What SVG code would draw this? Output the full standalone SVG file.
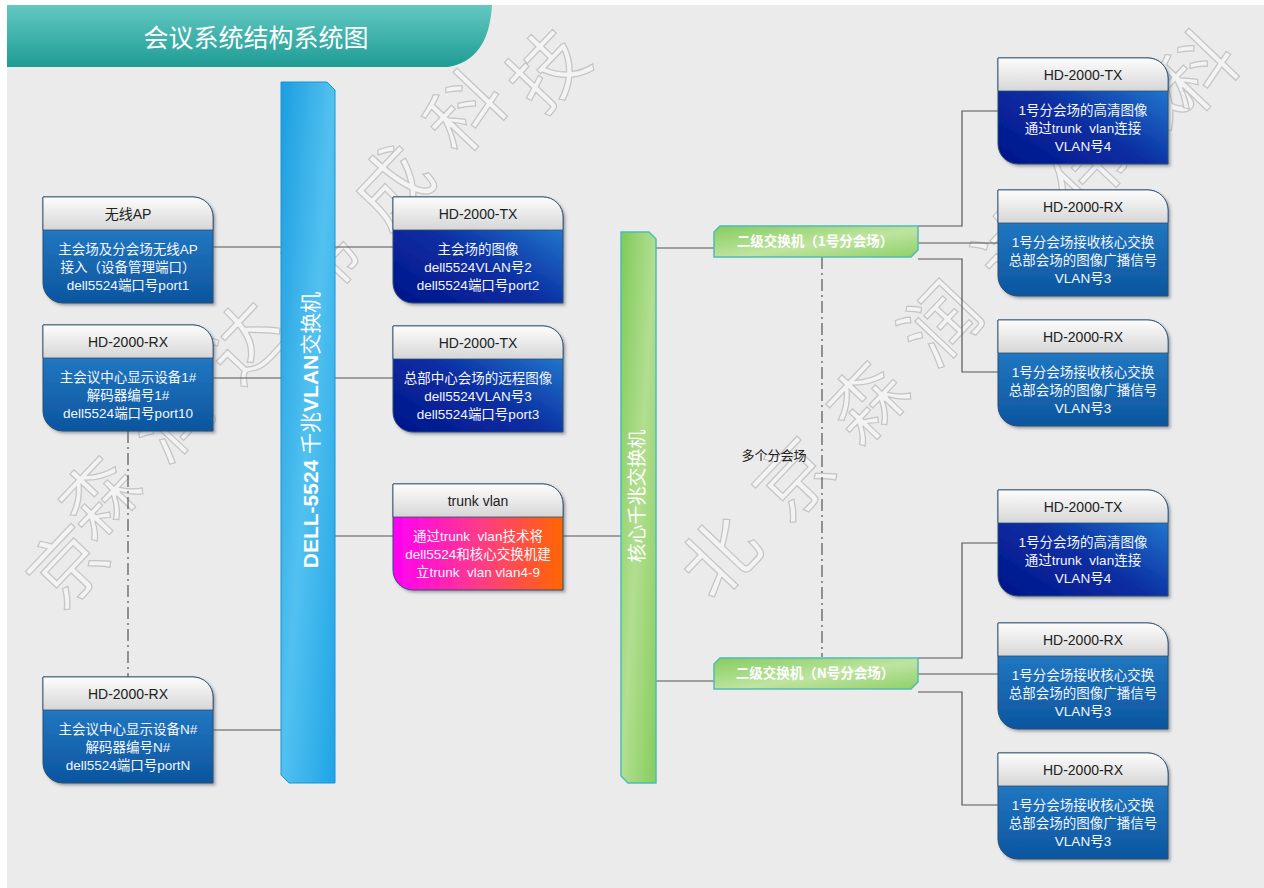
<svg xmlns="http://www.w3.org/2000/svg" xmlns:xlink="http://www.w3.org/1999/xlink" width="1264" height="888" viewBox="0 0 1264 888">
<style>
  .t{font-family:"Liberation Sans","Noto Sans CJK SC",sans-serif;}
  .hdt{font-size:14px;fill:#222;text-anchor:middle;}
  .bdt{font-size:13.5px;fill:#f4f7ff;text-anchor:middle;}
  .ln{stroke:#555;stroke-width:1.2;fill:none;}
  .dd{stroke:#555;stroke-width:1.2;fill:none;stroke-dasharray:12 4 2 4;}
  .wm{font-family:"Noto Sans CJK SC",sans-serif;font-size:76px;text-anchor:middle;fill:#f7f7f7;fill-opacity:0.7;stroke:#c4c4c4;stroke-width:1.2;}
  .sw{font-family:"Noto Sans CJK SC","Liberation Sans",sans-serif;font-size:13.5px;font-weight:bold;fill:#fff;text-anchor:middle;}
</style>
<defs>
  <linearGradient id="gBan" x1="0" y1="0" x2="0" y2="1">
    <stop offset="0" stop-color="#63c8c2"/><stop offset="1" stop-color="#1f9c95"/>
  </linearGradient>
  <linearGradient id="gDell" x1="0" y1="0" x2="1" y2="1">
    <stop offset="0" stop-color="#1b9de0"/><stop offset="0.5" stop-color="#52c1f0"/><stop offset="1" stop-color="#1fa4e6"/>
  </linearGradient>
  <linearGradient id="gCore" x1="0" y1="0" x2="1" y2="1">
    <stop offset="0" stop-color="#7fca58"/><stop offset="0.5" stop-color="#b2de90"/><stop offset="1" stop-color="#86cd5e"/>
  </linearGradient>
  <linearGradient id="gSw" x1="0" y1="0" x2="1" y2="1">
    <stop offset="0" stop-color="#86cc60"/><stop offset="0.55" stop-color="#bfe4a0"/><stop offset="1" stop-color="#8ed068"/>
  </linearGradient>
  <linearGradient id="gHd" x1="0" y1="0" x2="0" y2="1">
    <stop offset="0" stop-color="#fdfdfd"/><stop offset="1" stop-color="#d6d6d6"/>
  </linearGradient>
  <linearGradient id="gRx" x1="0" y1="0" x2="0" y2="1">
    <stop offset="0" stop-color="#2a86cf"/><stop offset="1" stop-color="#0c559f"/>
  </linearGradient>
  <linearGradient id="gTx" x1="0" y1="1" x2="1" y2="0">
    <stop offset="0" stop-color="#03148a"/><stop offset="0.45" stop-color="#0a2ea2"/><stop offset="1" stop-color="#2b92dc"/>
  </linearGradient>
  <linearGradient id="gTr" x1="0" y1="0" x2="1" y2="0">
    <stop offset="0" stop-color="#ff00f6"/><stop offset="0.5" stop-color="#ff3a8a"/><stop offset="1" stop-color="#ff6600"/>
  </linearGradient>
  <filter id="sh" x="-10%" y="-10%" width="125%" height="125%">
    <feDropShadow dx="2" dy="2" stdDeviation="1.5" flood-color="#4a5a6a" flood-opacity="0.5"/>
  </filter>
  <path id="shape" d="M0,0 H150 A20,20 0 0 1 170,20 V106 H20 A20,20 0 0 1 0,86 Z"/>
  <path id="hdr" d="M0,0 H150 A20,20 0 0 1 170,20 V33 H0 Z"/>
</defs>

<rect x="0" y="0" width="1264" height="888" fill="#ffffff"/>
<rect x="7" y="5" width="1257" height="883" fill="#ebebeb"/>

<!-- watermark -->
<g id="watermark">
  <text class="wm" transform="translate(76,574) rotate(-46.5)" y="16" font-size="46">京</text>
  <text class="wm" transform="translate(99,497) rotate(-46.5)" y="27">森</text>
  <text class="wm" transform="translate(172,420) rotate(-46.5)" y="27">润</text>
  <text class="wm" transform="translate(246,342) rotate(-46.5)" y="27">达</text>
  <text class="wm" transform="translate(319,265) rotate(-46.5)" y="27">伟</text>
  <text class="wm" transform="translate(393,187) rotate(-46.5)" y="27">成</text>
  <text class="wm" transform="translate(466,112) rotate(-46.5)" y="27">科</text>
  <text class="wm" transform="translate(548,70) rotate(-46.5)" y="27">技</text>
  <text class="wm" transform="translate(720,557) rotate(-46.5)" y="27">北</text>
  <text class="wm" transform="translate(794,479) rotate(-46.5)" y="27">京</text>
  <text class="wm" transform="translate(867,402) rotate(-46.5)" y="27">森</text>
  <text class="wm" transform="translate(941,324) rotate(-46.5)" y="27">润</text>
  <text class="wm" transform="translate(1015,246) rotate(-46.5)" y="27">达</text>
  <text class="wm" transform="translate(1088,169) rotate(-46.5)" y="27">伟</text>
  <text class="wm" transform="translate(1150,105) rotate(-46.5)" y="27">成</text>
  <text class="wm" transform="translate(1198,72) rotate(-46.5)" y="27">科</text>
</g>

<!-- title -->
<g id="title">
  <path d="M7,5 H492 Q489,60 448,67 H7 Z" fill="url(#gBan)"/>
  <text x="256" y="47" font-size="25" fill="#ffffff" text-anchor="middle" font-family="Noto Sans CJK SC,sans-serif">会议系统结构系统图</text>
</g>

<!-- connectors -->
<g id="connectors">
  <path class="ln" d="M213,247 H393"/>
  <path class="ln" d="M213,378 H393"/>
  <path class="ln" d="M335,536 H393"/>
  <path class="ln" d="M563,536 H621"/>
  <path class="ln" d="M213,730 H281"/>
  <path class="dd" d="M128,431 V677"/>
  <path class="ln" d="M656,248 H714"/>
  <path class="ln" d="M656,681 H714"/>
  <path class="ln" d="M918,226 H962 V111 H998"/>
  <path class="ln" d="M918,243 H998"/>
  <path class="ln" d="M918,259 H962 V372 H998"/>
  <path class="ln" d="M918,658 H962 V543 H998"/>
  <path class="ln" d="M918,674 H998"/>
  <path class="ln" d="M918,692 H962 V805 H998"/>
  <path class="dd" d="M822,257 V657"/>
</g>

<!-- DELL switch bar -->
<g id="dell5524">
  <polygon points="281,82 327,82 335,90 335,783 289,783 281,775" fill="url(#gDell)" stroke="#1a94d4" stroke-width="1"/>
  <text class="t" transform="translate(318,430) rotate(-90)" text-anchor="middle" font-size="21" fill="#ffffff"><tspan font-weight="bold">DELL-5524</tspan> 千兆<tspan font-weight="bold">VLAN</tspan>交换机</text>
</g>

<!-- core switch bar -->
<g id="core">
  <polygon points="621,232 649,232 656,239 656,783 628,783 621,776" fill="url(#gCore)" stroke="#4fbdb5" stroke-width="1.5"/>
  <text class="t" transform="translate(644,496) rotate(-90)" text-anchor="middle" font-size="19" fill="#ffffff">核心千兆交换机</text>
</g>

<!-- secondary switches -->
<g id="sw1">
  <polygon points="720,226 918,226 918,250 911,257 714,257 714,232" fill="url(#gSw)" stroke="#4fbdb5" stroke-width="1.5"/>
  <text class="sw" x="815" y="246">二级交换机（1号分会场）</text>
</g>
<g id="swN">
  <polygon points="720,658 918,658 918,682 911,689 714,689 714,664" fill="url(#gSw)" stroke="#4fbdb5" stroke-width="1.5"/>
  <text class="sw" x="815" y="678">二级交换机（N号分会场）</text>
</g>

<text id="multi" class="t" x="774" y="460" font-size="13" fill="#222" text-anchor="middle">多个分会场</text>

<!-- left nodes -->
<g id="ap" transform="translate(43,197)">
  <use href="#shape" fill="url(#gRx)" stroke="#2d4e6e" stroke-width="1" filter="url(#sh)"/>
  <use href="#hdr" fill="url(#gHd)" stroke="#2d4e6e" stroke-width="0.8"/>
  <text class="t hdt" x="85" y="22">无线AP</text>
  <text class="t bdt" x="85" y="57">主会场及分会场无线AP</text>
  <text class="t bdt" x="85" y="75">接入（设备管理端口）</text>
  <text class="t bdt" x="85" y="93">dell5524端口号port1</text>
</g>
<g id="rx1" transform="translate(43,325)">
  <use href="#shape" fill="url(#gRx)" stroke="#2d4e6e" stroke-width="1" filter="url(#sh)"/>
  <use href="#hdr" fill="url(#gHd)" stroke="#2d4e6e" stroke-width="0.8"/>
  <text class="t hdt" x="85" y="22">HD-2000-RX</text>
  <text class="t bdt" x="85" y="57">主会议中心显示设备1#</text>
  <text class="t bdt" x="85" y="75">解码器编号1#</text>
  <text class="t bdt" x="85" y="93">dell5524端口号port10</text>
</g>
<g id="rxN" transform="translate(43,677)">
  <use href="#shape" fill="url(#gRx)" stroke="#2d4e6e" stroke-width="1" filter="url(#sh)"/>
  <use href="#hdr" fill="url(#gHd)" stroke="#2d4e6e" stroke-width="0.8"/>
  <text class="t hdt" x="85" y="22">HD-2000-RX</text>
  <text class="t bdt" x="85" y="57">主会议中心显示设备N#</text>
  <text class="t bdt" x="85" y="75">解码器编号N#</text>
  <text class="t bdt" x="85" y="93">dell5524端口号portN</text>
</g>

<!-- middle nodes -->
<g id="tx1" transform="translate(393,197)">
  <use href="#shape" fill="url(#gTx)" stroke="#2d4e6e" stroke-width="1" filter="url(#sh)"/>
  <use href="#hdr" fill="url(#gHd)" stroke="#2d4e6e" stroke-width="0.8"/>
  <text class="t hdt" x="85" y="22">HD-2000-TX</text>
  <text class="t bdt" x="85" y="57">主会场的图像</text>
  <text class="t bdt" x="85" y="75">dell5524VLAN号2</text>
  <text class="t bdt" x="85" y="93">dell5524端口号port2</text>
</g>
<g id="tx2" transform="translate(393,326)">
  <use href="#shape" fill="url(#gTx)" stroke="#2d4e6e" stroke-width="1" filter="url(#sh)"/>
  <use href="#hdr" fill="url(#gHd)" stroke="#2d4e6e" stroke-width="0.8"/>
  <text class="t hdt" x="85" y="22">HD-2000-TX</text>
  <text class="t bdt" x="85" y="57">总部中心会场的远程图像</text>
  <text class="t bdt" x="85" y="75">dell5524VLAN号3</text>
  <text class="t bdt" x="85" y="93">dell5524端口号port3</text>
</g>
<g id="trunk" transform="translate(393,484)">
  <use href="#shape" fill="url(#gTr)" stroke="#2d4e6e" stroke-width="1" filter="url(#sh)"/>
  <use href="#hdr" fill="url(#gHd)" stroke="#2d4e6e" stroke-width="0.8"/>
  <text class="t hdt" x="85" y="22">trunk vlan</text>
  <text class="t bdt" x="85" y="57" xml:space="preserve">通过trunk  vlan技术将</text>
  <text class="t bdt" x="85" y="75">dell5524和核心交换机建</text>
  <text class="t bdt" x="85" y="93" xml:space="preserve">立trunk  vlan vlan4-9</text>
</g>

<!-- right nodes -->
<g id="r1" transform="translate(998,58)">
  <use href="#shape" fill="url(#gTx)" stroke="#2d4e6e" stroke-width="1" filter="url(#sh)"/>
  <use href="#hdr" fill="url(#gHd)" stroke="#2d4e6e" stroke-width="0.8"/>
  <text class="t hdt" x="85" y="22">HD-2000-TX</text>
  <text class="t bdt" x="85" y="57">1号分会场的高清图像</text>
  <text class="t bdt" x="85" y="75" xml:space="preserve">通过trunk  vlan连接</text>
  <text class="t bdt" x="85" y="93">VLAN号4</text>
</g>
<g id="r2" transform="translate(998,190)">
  <use href="#shape" fill="url(#gRx)" stroke="#2d4e6e" stroke-width="1" filter="url(#sh)"/>
  <use href="#hdr" fill="url(#gHd)" stroke="#2d4e6e" stroke-width="0.8"/>
  <text class="t hdt" x="85" y="22">HD-2000-RX</text>
  <text class="t bdt" x="85" y="57">1号分会场接收核心交换</text>
  <text class="t bdt" x="85" y="75">总部会场的图像广播信号</text>
  <text class="t bdt" x="85" y="93">VLAN号3</text>
</g>
<g id="r3" transform="translate(998,320)">
  <use href="#shape" fill="url(#gRx)" stroke="#2d4e6e" stroke-width="1" filter="url(#sh)"/>
  <use href="#hdr" fill="url(#gHd)" stroke="#2d4e6e" stroke-width="0.8"/>
  <text class="t hdt" x="85" y="22">HD-2000-RX</text>
  <text class="t bdt" x="85" y="57">1号分会场接收核心交换</text>
  <text class="t bdt" x="85" y="75">总部会场的图像广播信号</text>
  <text class="t bdt" x="85" y="93">VLAN号3</text>
</g>
<g id="r4" transform="translate(998,490)">
  <use href="#shape" fill="url(#gTx)" stroke="#2d4e6e" stroke-width="1" filter="url(#sh)"/>
  <use href="#hdr" fill="url(#gHd)" stroke="#2d4e6e" stroke-width="0.8"/>
  <text class="t hdt" x="85" y="22">HD-2000-TX</text>
  <text class="t bdt" x="85" y="57">1号分会场的高清图像</text>
  <text class="t bdt" x="85" y="75" xml:space="preserve">通过trunk  vlan连接</text>
  <text class="t bdt" x="85" y="93">VLAN号4</text>
</g>
<g id="r5" transform="translate(998,623)">
  <use href="#shape" fill="url(#gRx)" stroke="#2d4e6e" stroke-width="1" filter="url(#sh)"/>
  <use href="#hdr" fill="url(#gHd)" stroke="#2d4e6e" stroke-width="0.8"/>
  <text class="t hdt" x="85" y="22">HD-2000-RX</text>
  <text class="t bdt" x="85" y="57">1号分会场接收核心交换</text>
  <text class="t bdt" x="85" y="75">总部会场的图像广播信号</text>
  <text class="t bdt" x="85" y="93">VLAN号3</text>
</g>
<g id="r6" transform="translate(998,753)">
  <use href="#shape" fill="url(#gRx)" stroke="#2d4e6e" stroke-width="1" filter="url(#sh)"/>
  <use href="#hdr" fill="url(#gHd)" stroke="#2d4e6e" stroke-width="0.8"/>
  <text class="t hdt" x="85" y="22">HD-2000-RX</text>
  <text class="t bdt" x="85" y="57">1号分会场接收核心交换</text>
  <text class="t bdt" x="85" y="75">总部会场的图像广播信号</text>
  <text class="t bdt" x="85" y="93">VLAN号3</text>
</g>
</svg>
